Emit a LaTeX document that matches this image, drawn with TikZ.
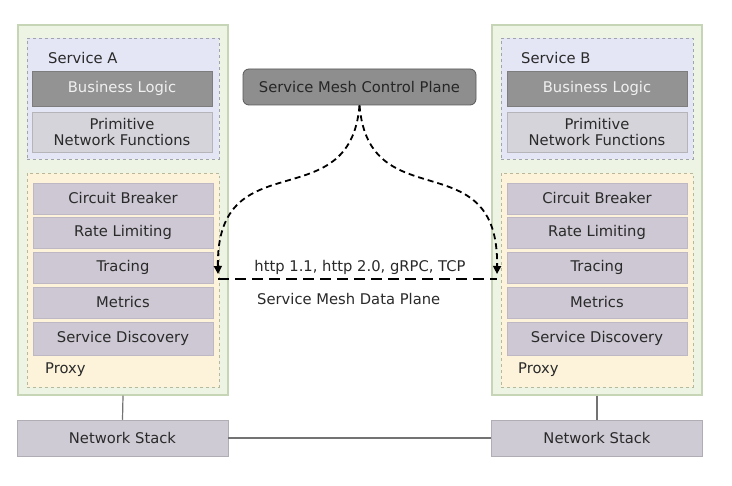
\documentclass[tikz,border=0pt]{standalone}
\usepackage{fontspec}
\setmainfont{DejaVu Sans}
\usetikzlibrary{arrows.meta}
\definecolor{outerfill}{HTML}{EDF4E4}
\definecolor{outerdraw}{HTML}{C5D5B5}
\definecolor{svcfill}{HTML}{E4E6F6}
\definecolor{svcdraw}{HTML}{A0A4AC}
\definecolor{proxyfill}{HTML}{FCF3DA}
\definecolor{proxydraw}{HTML}{B8B89A}
\definecolor{blfill}{HTML}{939393}
\definecolor{pnffill}{HTML}{D4D4DA}
\definecolor{fnfill}{HTML}{CDC8D3}
\definecolor{fndraw}{HTML}{BDB8C4}
\definecolor{nsfill}{HTML}{CFCBD4}
\definecolor{cpfill}{HTML}{8E8E8E}
\definecolor{txt}{HTML}{2A2A2A}
\begin{document}
\begin{tikzpicture}[x=1bp,y=-1bp,
  every node/.style={font=\fontsize{14.8}{17}\selectfont, text=txt, inner sep=0pt},
  outerbox/.style={draw=outerdraw, fill=outerfill, line width=1.2bp, minimum width=210bp, minimum height=370bp},
  svcbox/.style={draw=svcdraw, fill=svcfill, dashed, line width=0.7bp, minimum width=192bp, minimum height=121bp},
  proxybox/.style={draw=proxydraw, fill=proxyfill, dashed, line width=0.7bp, minimum width=192bp, minimum height=214bp},
  blbox/.style={fill=blfill, draw=blfill!85!black, line width=0.5bp, minimum width=180bp, minimum height=35bp, text=white!88!gray},
  pnfbox/.style={fill=pnffill, draw=pnffill!85!black, line width=0.5bp, minimum width=180bp, minimum height=40bp, align=center},
  fnbox/.style={fill=fnfill, draw=fndraw, line width=0.5bp, minimum width=180bp, minimum height=31bp},
  nsbox/.style={fill=nsfill, draw=nsfill!85!black, line width=0.5bp, minimum width=211bp, minimum height=36bp},
  cpbox/.style={fill=cpfill, draw=black!65, line width=0.8bp, rounded corners=6bp, minimum width=233bp, minimum height=36bp, text=black!85},
  plain/.style={draw=black!55, line width=1.2bp},
  curvy/.style={draw=black, line width=1.8bp, dash pattern=on 6bp off 4bp, -{Triangle[length=8bp,width=8bp]}},
  dataline/.style={draw=black, line width=2.6bp, dash pattern=on 11bp off 6bp}
]
\useasboundingbox[fill=white] (0,0) rectangle (732,486);

% Service A side
\node[outerbox] (outA) at (123,210) {};
\node[svcbox] (svcA) at (123,98.5) {};
\node[anchor=west] (lblA) at (48,58) {Service A};
\node[blbox] (blA) at (122,88.5) {Business Logic};
\node[pnfbox] (pnfA) at (122,132) {Primitive\\Network Functions};
\node[proxybox] (pxA) at (123,280) {};
\node[fnbox] (cbA) at (123,198.5) {Circuit Breaker};
\node[fnbox] (rlA) at (123,232.5) {Rate Limiting};
\node[fnbox] (trA) at (123,267.5) {Tracing};
\node[fnbox] (meA) at (123,302.5) {Metrics};
\node[fnbox, minimum height=33bp] (sdA) at (123,338.5) {Service Discovery};
\node[anchor=west] (pxlA) at (45,370) {Proxy};
\node[nsbox] (nsA) at (122.5,438) {Network Stack};

% Service B side
\node[outerbox] (outB) at (597,210) {};
\node[svcbox] (svcB) at (597,98.5) {};
\node[anchor=west] (lblB) at (521,58) {Service B};
\node[blbox] (blB) at (597,88.5) {Business Logic};
\node[pnfbox] (pnfB) at (597,132) {Primitive\\Network Functions};
\node[proxybox] (pxB) at (597,280) {};
\node[fnbox] (cbB) at (597,198.5) {Circuit Breaker};
\node[fnbox] (rlB) at (597,232.5) {Rate Limiting};
\node[fnbox] (trB) at (597,267.5) {Tracing};
\node[fnbox] (meB) at (597,302.5) {Metrics};
\node[fnbox, minimum height=33bp] (sdB) at (597,338.5) {Service Discovery};
\node[anchor=west] (pxlB) at (518,370) {Proxy};
\node[nsbox] (nsB) at (597,438) {Network Stack};

% Control plane
\node[cpbox] (cp) at (359.5,87) {Service Mesh Control Plane};

% connection points
\coordinate (arrA) at (218,274);
\coordinate (arrB) at (497,274);
\coordinate (dA) at (218,279);
\coordinate (dB) at (497,279);

\draw[curvy] (cp.south) .. controls (350,220) and (216,140) .. (arrA);
\draw[curvy] (cp.south) .. controls (369,220) and (499,140) .. (arrB);
\draw[dataline] (dA) -- (dB);

\node (proto) at (360,267) {http 1.1, http 2.0, gRPC, TCP};
\node[anchor=west] (dp) at (257,299) {Service Mesh Data Plane};

% network stack links
\draw[plain] (outA.south) -- (nsA.north);
\draw[plain] (outB.south) -- (nsB.north);
\draw[plain] (nsA.east) -- (nsB.west);
\end{tikzpicture}
\end{document}
